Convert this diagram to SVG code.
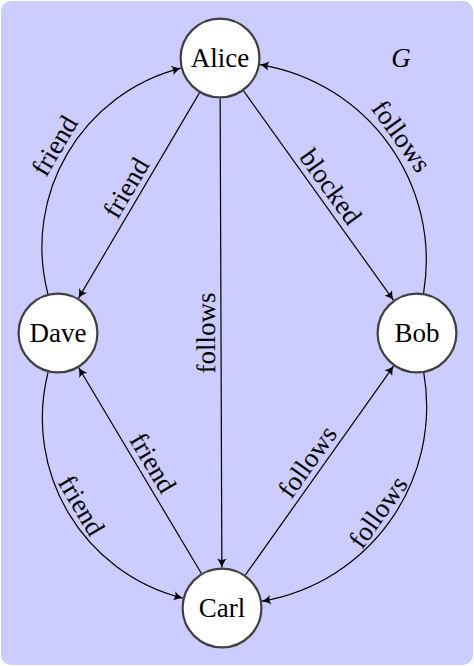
<svg xmlns="http://www.w3.org/2000/svg" width="474" height="666" viewBox="0 0 474 666">
<style>
.node circle{fill:#ffffff;stroke:#404040;stroke-width:2.2}
.node text{font-size:27px;text-anchor:middle;fill:#000}
.edge{fill:none;stroke:#000;stroke-width:1.2;marker-end:url(#arr)}
.lbl{font-size:27px;text-anchor:middle;fill:#000}
</style>
<defs>
<marker id="arr" markerUnits="userSpaceOnUse" markerWidth="12" markerHeight="12" viewBox="-10 -6 12 12" refX="0" refY="0" orient="auto">
<path d="M0,0 C-2.5,-0.8 -6,-2.5 -9,-4.8 C-7.2,-2 -7.2,2 -9,4.8 C-6,2.5 -2.5,0.8 0,0 Z" fill="#000"/>
</marker>
</defs>
<rect x="1" y="1" width="472" height="664" rx="10" ry="10" fill="#ccccff"/>
<g id="connectors">
<path class="edge" d="M199.44,92.90 L78.56,298.10"/>
<path class="edge" d="M201.26,573.22 L78.74,367.78"/>
<path class="edge" d="M220.15,98.5 L221.85,567.5"/>
<path class="edge" d="M243.59,90.92 L393.41,300.08"/>
<path class="edge" d="M245.43,574.96 L393.57,366.04"/>
<path class="edge" d="M47.87,293.79 C22.22,194.52 81.52,93.78 180.79,68.13"/>
<path class="edge" d="M423.60,293.04 C441.53,184.50 368.50,82.53 259.96,64.60"/>
<path class="edge" d="M48.07,372.26 C22.84,472.05 82.95,572.84 182.74,598.07"/>
<path class="edge" d="M423.80,372.93 C442.19,480.94 369.94,582.81 261.93,601.20"/>
<g id="labels" font-family="Liberation Serif, DejaVu Serif, serif">
<text class="lbl" transform="translate(139.0,195.5) rotate(-59.49)" y="-6">friend</text>
<text class="lbl" transform="translate(140.0,470.5) rotate(59.19)" y="-6">friend</text>
<text class="lbl" transform="translate(221,333) rotate(-90.21)" y="-6">follows</text>
<text class="lbl" transform="translate(318.5,195.5) rotate(54.38)" y="-6">blocked</text>
<text class="lbl" transform="translate(319.5,470.5) rotate(-54.66)" y="-6">follows</text>
<text class="lbl" transform="translate(67.49,153.35) rotate(-59.49)" y="-6">friend</text>
<text class="lbl" transform="translate(389.21,144.84) rotate(54.38)" y="-6">follows</text>
<text class="lbl" transform="translate(68.52,513.13) rotate(59.19)" y="-6">friend</text>
<text class="lbl" transform="translate(390.27,520.67) rotate(-54.66)" y="-6">follows</text>
</g>
</g>
<g id="alice" class="node" font-family="Liberation Serif, DejaVu Serif, serif"><circle cx="220" cy="58" r="39.4"/><text x="220" y="67">Alice</text></g>
<g id="dave" class="node" font-family="Liberation Serif, DejaVu Serif, serif"><circle cx="58" cy="333" r="39.4"/><text x="58" y="342">Dave</text></g>
<g id="bob" class="node" font-family="Liberation Serif, DejaVu Serif, serif"><circle cx="417" cy="333" r="39.4"/><text x="417" y="342">Bob</text></g>
<g id="carl" class="node" font-family="Liberation Serif, DejaVu Serif, serif"><circle cx="222" cy="608" r="39.4"/><text x="222" y="617">Carl</text></g>
<text x="401" y="67" font-family="Liberation Serif, DejaVu Serif, serif" font-size="27" font-style="italic" text-anchor="middle">G</text>
</svg>
